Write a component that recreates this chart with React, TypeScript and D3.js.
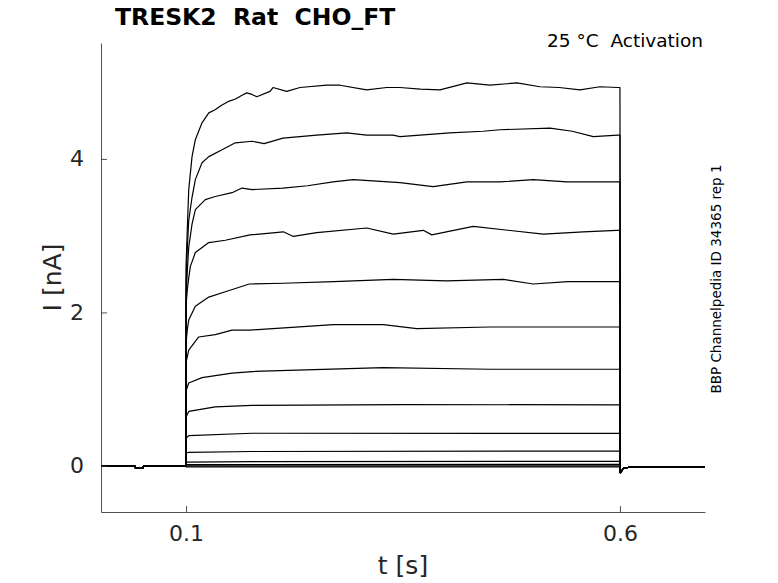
import { useEffect, useRef } from 'react'
import * as d3 from 'd3'

const W = 778
const H = 583
const margin = { top: 43, right: 73, bottom: 71, left: 101 }
const width = W - margin.left - margin.right
const height = H - margin.top - margin.bottom

type Pt = [number, number]

// holding potential before the step (t in s, I in nA)
const preHold: Pt[] = [[0.002, 0], [0.041, 0], [0.0415, -0.025], [0.0505, -0.025], [0.051, 0], [0.1, 0]]
// tail after the step
const postHold: Pt[] = [[0.6005, -0.09], [0.604, -0.03], [0.615, -0.01], [0.698, -0.01]]

// step responses, largest first
const trace1: Pt[] = [[0.1, 2.6], [0.1015, 3.1], [0.1031, 3.6], [0.1069, 4.03], [0.1107, 4.25], [0.1184, 4.47], [0.1262, 4.6], [0.1334, 4.64], [0.141, 4.7], [0.1492, 4.75], [0.157, 4.78], [0.1645, 4.83], [0.17, 4.86], [0.176, 4.84], [0.1815, 4.81], [0.1968, 4.88], [0.2002, 4.93], [0.216, 4.88], [0.2313, 4.93], [0.2621, 4.96], [0.2774, 4.96], [0.3082, 4.9], [0.3312, 4.93], [0.3465, 4.93], [0.37, 4.91], [0.3926, 4.9], [0.4237, 4.99], [0.45, 4.96], [0.4813, 4.99], [0.5078, 4.94], [0.53, 4.93], [0.5539, 4.9], [0.577, 4.94], [0.5977, 4.93], [0.6, 4.93]]
const trace2: Pt[] = [[0.1, 2.4], [0.1015, 2.85], [0.1031, 3.2], [0.1069, 3.5], [0.1107, 3.73], [0.1184, 3.95], [0.1262, 4.03], [0.1415, 4.12], [0.1568, 4.21], [0.176, 4.23], [0.19, 4.2], [0.2117, 4.27], [0.2506, 4.31], [0.2851, 4.34], [0.3082, 4.31], [0.3385, 4.31], [0.3465, 4.29], [0.4041, 4.34], [0.4422, 4.36], [0.4618, 4.38], [0.5194, 4.4], [0.545, 4.36], [0.5693, 4.29], [0.5977, 4.31], [0.6, 4.31]]
const trace3: Pt[] = [[0.1, 2.2], [0.1015, 2.55], [0.1031, 2.85], [0.1069, 3.15], [0.1107, 3.34], [0.1222, 3.47], [0.1337, 3.51], [0.153, 3.56], [0.1645, 3.62], [0.176, 3.6], [0.2117, 3.62], [0.24, 3.65], [0.2694, 3.7], [0.2925, 3.73], [0.3465, 3.69], [0.3846, 3.64], [0.4237, 3.7], [0.4617, 3.7], [0.5, 3.73], [0.5389, 3.7], [0.5977, 3.7], [0.6, 3.7]]
const trace4: Pt[] = [[0.1, 2.1], [0.1015, 2.3], [0.1031, 2.45], [0.105, 2.6], [0.1107, 2.78], [0.1262, 2.91], [0.1453, 2.94], [0.1737, 3.01], [0.2121, 3.05], [0.2236, 2.99], [0.2506, 3.04], [0.3082, 3.1], [0.3388, 3.02], [0.3734, 3.07], [0.3831, 3.01], [0.431, 3.12], [0.5116, 3.02], [0.5577, 3.05], [0.5962, 3.07], [0.6, 3.07]]
const trace5: Pt[] = [[0.1, 1.6], [0.1015, 1.78], [0.1031, 1.9], [0.1107, 2.08], [0.1262, 2.2], [0.1453, 2.27], [0.1728, 2.37], [0.2121, 2.38], [0.27, 2.4], [0.3388, 2.43], [0.4, 2.41], [0.4656, 2.43], [0.5001, 2.37], [0.54, 2.4], [0.5962, 2.4], [0.6, 2.4]]
const trace6: Pt[] = [[0.1, 1.35], [0.1031, 1.51], [0.1146, 1.68], [0.1337, 1.71], [0.153, 1.77], [0.1737, 1.77], [0.2697, 1.84], [0.3273, 1.84], [0.3658, 1.79], [0.45, 1.81], [0.5962, 1.81], [0.6, 1.81]]
const trace7: Pt[] = [[0.1, 0.98], [0.1031, 1.08], [0.1184, 1.15], [0.153, 1.21], [0.176, 1.23], [0.3273, 1.28], [0.45, 1.26], [0.5962, 1.26], [0.6, 1.26]]
const trace8: Pt[] = [[0.1, 0.64], [0.1031, 0.71], [0.1337, 0.77], [0.176, 0.79], [0.35, 0.8], [0.6, 0.795]]
const trace9: Pt[] = [[0.1, 0.36], [0.1031, 0.395], [0.176, 0.426], [0.6, 0.425]]
const trace10: Pt[] = [[0.1, 0.165], [0.1031, 0.178], [0.176, 0.188], [0.6, 0.195]]
const trace11: Pt[] = [[0.1, 0.05], [0.176, 0.057], [0.6, 0.06]]
const trace12: Pt[] = [[0.1, 0.018], [0.6, 0.022]]
const trace13: Pt[] = [[0.1, 0.0], [0.6, 0.0]]
const trace14: Pt[] = [[0.1, -0.012], [0.6, -0.012]]

const traces = [trace1, trace2, trace3, trace4, trace5, trace6, trace7, trace8, trace9, trace10, trace11, trace12, trace13, trace14]

const xTicks = [0.1, 0.6]
const yTicks = [0, 2, 4]
const xDomain: [number, number] = [0.002, 0.698]
const yDomain: [number, number] = [-0.6, 5.51]

const FONT = 'DejaVu Sans, sans-serif'
const AXIS_COLOR = '#262626'

export default function App() {
    const ref = useRef<SVGSVGElement>(null)

    useEffect(() => {
        const svg = d3.select(ref.current)
        svg.selectAll('*').remove()

        const x = d3.scaleLinear().domain(xDomain).range([0, width])
        const y = d3.scaleLinear().domain(yDomain).range([height, 0])

        const g = svg.append('g')
            .attr('transform', `translate(${margin.left}, ${margin.top})`)

        const line = d3.line<Pt>()
            .x(d => x(d[0]))
            .y(d => y(d[1]))

        // traces
        g.append('g')
            .selectAll('path')
            .data(traces)
            .enter().append('path')
                .attr('d', d => line([...preHold, ...d, ...postHold]))
                .attr('fill', 'none')
                .attr('stroke', '#000')
                .attr('stroke-width', 1.2)
                .attr('stroke-linejoin', 'round')

        // axes
        const xAxis = g.append('g')
            .attr('transform', `translate(0, ${height})`)
            .call(d3.axisBottom(x).tickValues(xTicks).tickFormat(d3.format('.1f')).tickSizeInner(-6).tickSizeOuter(0).tickPadding(13))
        const yAxis = g.append('g')
            .call(d3.axisLeft(y).tickValues(yTicks).tickFormat(d3.format('d')).tickSizeInner(-6).tickSizeOuter(0).tickPadding(17))

        for (const ax of [xAxis, yAxis]) {
            ax.select('.domain').attr('stroke', AXIS_COLOR).attr('stroke-width', 0.8)
            ax.selectAll('.tick line').attr('stroke', AXIS_COLOR).attr('stroke-width', 0.8)
            ax.selectAll('.tick text')
                .attr('fill', AXIS_COLOR)
                .attr('font-family', FONT)
                .attr('font-size', 22)
        }

        // axis labels
        g.append('text')
            .attr('x', width / 2)
            .attr('y', height + 62)
            .attr('text-anchor', 'middle')
            .attr('font-family', FONT)
            .attr('font-size', 25)
            .attr('fill', AXIS_COLOR)
            .text('t [s]')

        g.append('text')
            .attr('transform', `translate(-40, ${height / 2}) rotate(-90)`)
            .attr('text-anchor', 'middle')
            .attr('font-family', FONT)
            .attr('font-size', 25)
            .attr('fill', AXIS_COLOR)
            .text('I [nA]')

        // title and notes
        svg.append('text')
            .attr('x', 115)
            .attr('y', 25)
            .attr('font-family', FONT)
            .attr('font-weight', 'bold')
            .attr('font-size', 23.5)
            .attr('fill', '#000')
            .style('white-space', 'pre')
            .text('TRESK2  Rat  CHO_FT')

        svg.append('text')
            .attr('x', 703)
            .attr('y', 47)
            .attr('text-anchor', 'end')
            .attr('font-family', FONT)
            .attr('font-size', 18.5)
            .attr('fill', '#000')
            .style('white-space', 'pre')
            .text('25 °C  Activation')

        svg.append('text')
            .attr('transform', `translate(721, 279) rotate(-90)`)
            .attr('text-anchor', 'middle')
            .attr('font-family', FONT)
            .attr('font-size', 13.5)
            .attr('fill', '#000')
            .text('BBP Channelpedia ID 34365 rep 1')
    }, [])

    return (
        <svg
            ref={ref}
            width={W}
            height={H}
            style={{ position: 'absolute', left: 0, top: 0, background: '#fff', display: 'block' }}
        />
    )
}
